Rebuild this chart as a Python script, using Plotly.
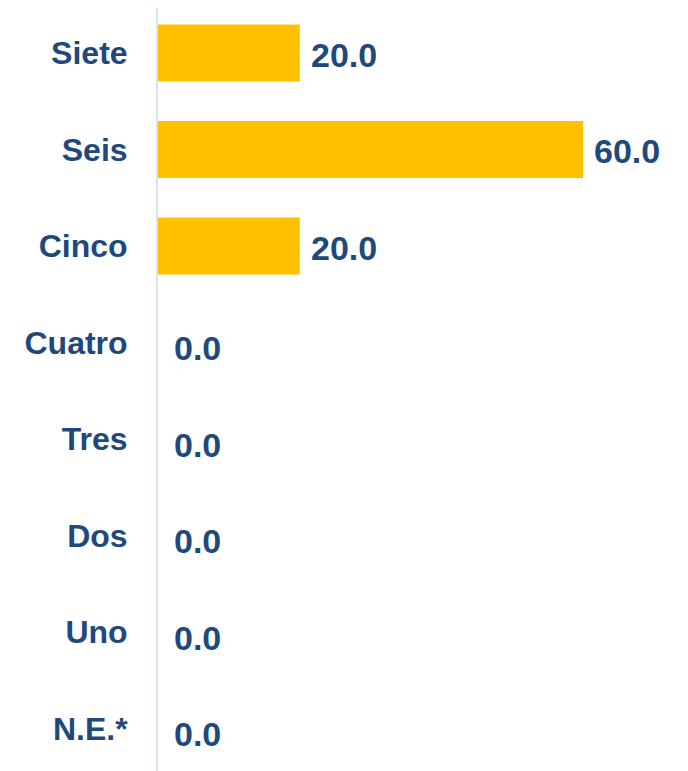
import plotly.graph_objects as go

categories = ["N.E.*", "Uno", "Dos", "Tres", "Cuatro", "Cinco", "Seis", "Siete"]
values = [0.0, 0.0, 0.0, 0.0, 0.0, 20.0, 60.0, 20.0]
value_labels = [f"{v:.1f}" for v in values]

LABEL_COLOR = "#1F497D"
BAR_COLOR = "#FFC000"
FONT = "Liberation Sans, Arial, sans-serif"

fig = go.Figure()
fig.add_trace(go.Bar(
    y=categories,
    x=values,
    orientation="h",
    marker=dict(color=BAR_COLOR, line=dict(width=0)),
    width=0.59,
    hoverinfo="skip",
))

for cat, v, lab in zip(categories, values, value_labels):
    fig.add_annotation(
        x=v, y=cat, text=lab, showarrow=False,
        xanchor="left", yanchor="middle",
        xshift=9 if v > 0 else 14,
        yshift=-2 if v > 0 else -6,
        font=dict(family=FONT, size=34, color=LABEL_COLOR, weight="bold"),
    )

fig.update_layout(
    width=688, height=771,
    margin=dict(l=150, r=8, t=0, b=0, autoexpand=False),
    paper_bgcolor="white", plot_bgcolor="white",
    showlegend=False,
)
fig.update_xaxes(
    range=[0, 74.8], visible=False, fixedrange=True, automargin=False,
)
fig.update_yaxes(
    type="category",
    categoryorder="array", categoryarray=categories,
    range=[-0.524, 7.466],
    showgrid=False, zeroline=False,
    showline=True, linecolor="#D6E3F5", linewidth=2,
    ticks="", ticklabelstandoff=22,
    tickfont=dict(family=FONT, size=32, color=LABEL_COLOR, weight="bold"),
    fixedrange=True, automargin=False,
)

fig.write_html("out.html")
